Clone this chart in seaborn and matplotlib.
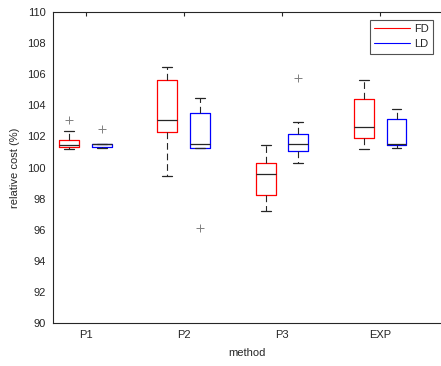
#!/usr/bin/env python3

import numpy as np
import pandas as pd
import matplotlib
matplotlib.use("Agg")
import matplotlib.pyplot as plt
from matplotlib.lines import Line2D
import seaborn as sns

# *** values (box statistics per method) ***
methods = ["P1", "P2", "P3", "EXP"]
variants = ["FD", "LD"]

# FD
fd_low = [101.20, 99.47, 97.22, 101.21]
fd_q1 = [101.32, 102.28, 98.23, 101.92]
fd_med = [101.45, 103.05, 99.58, 102.60]
fd_q3 = [101.75, 105.60, 100.27, 104.39]
fd_high = [102.37, 106.48, 101.45, 105.63]
fd_out = [[103.05], [], [], []]

# LD
ld_low = [101.25, 101.27, 100.31, 101.25]
ld_q1 = [101.32, 101.27, 101.04, 101.45]
ld_med = [101.49, 101.49, 101.49, 101.53]
ld_q3 = [101.53, 103.48, 102.17, 103.10]
ld_high = [101.53, 104.45, 102.95, 103.76]
ld_out = [[102.46], [96.11], [105.74], []]

colors = {"FD": "#ff0000", "LD": "#0000ff"}
dark = "#262626"


def build_frame():
    '''long table: the five summary values of every box'''
    rows = []
    stats = {"FD": (fd_low, fd_q1, fd_med, fd_q3, fd_high),
             "LD": (ld_low, ld_q1, ld_med, ld_q3, ld_high)}
    for v in variants:
        for i, m in enumerate(methods):
            for arr in stats[v]:
                rows.append({"method": m, "variant": v, "cost": arr[i]})
    return pd.DataFrame(rows)


def main():
    sns.set_style("white")
    plt.rcParams["font.family"] = ["Liberation Sans", "DejaVu Sans"]
    plt.rcParams["font.size"] = 8

    df = build_frame()

    fig = plt.figure(figsize=(4.41, 3.66), dpi=100)
    ax = fig.add_axes([0.120, 0.1175, 0.88, 0.8495])

    width = 0.667
    sns.boxplot(data=df, x="method", y="cost", hue="variant",
                order=methods, hue_order=variants, palette=colors,
                width=width, gap=0.39, fill=False, whis=(0, 100),
                linewidth=0.9, showfliers=False, legend=False,
                medianprops={"color": dark, "linewidth": 0.9},
                whiskerprops={"color": dark, "linewidth": 0.8,
                              "linestyle": (0, (6, 3.5))},
                capprops={"color": dark, "linewidth": 0.9},
                ax=ax)

    # outliers as '+' markers at the dodged positions
    for j, (v, outs) in enumerate([("FD", fd_out), ("LD", ld_out)]):
        off = (j - 0.5) * width / 2
        for i, vals in enumerate(outs):
            if vals:
                ax.plot([i + off] * len(vals), vals, linestyle="none",
                        marker="+", markersize=6, markeredgewidth=0.7,
                        color="#808080")

    ax.set_ylim(90, 110)
    ax.set_yticks(np.arange(90, 111, 2))
    ax.set_xlim(-0.333, 3.62)
    ax.set_xlabel("method", fontsize=8, color=dark, labelpad=6)
    ax.set_ylabel("relative cost (%)", fontsize=8, color=dark, labelpad=5)

    for side in ["left", "bottom", "top"]:
        ax.spines[side].set_color(dark)
        ax.spines[side].set_linewidth(0.8)
    ax.spines["right"].set_visible(False)
    ax.tick_params(axis="both", direction="in", length=3, width=0.8,
                   colors=dark, labelsize=8, pad=5)
    ax.tick_params(axis="x", top=True)

    handles = [Line2D([0], [0], color=colors[v], linewidth=0.8) for v in variants]
    leg = ax.legend(handles, variants, loc="upper right", fontsize=8,
                    frameon=True, fancybox=False, handlelength=3.2,
                    handletextpad=0.4, borderpad=0.4, labelspacing=0.45,
                    borderaxespad=0.7)
    leg.get_frame().set_edgecolor(dark)
    leg.get_frame().set_linewidth(0.8)

    fig.savefig("out.png", dpi=100)


if __name__ == "__main__":
    main()
